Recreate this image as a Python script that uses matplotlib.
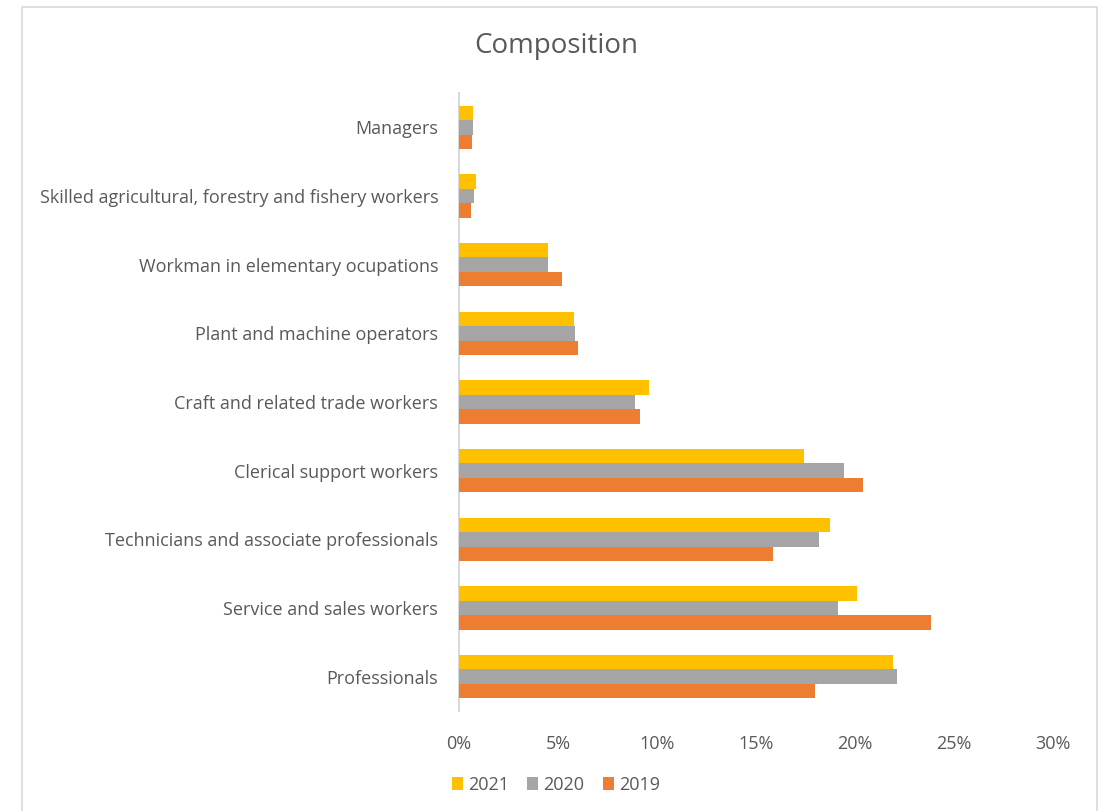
import matplotlib

matplotlib.use("Agg")
import matplotlib.pyplot as plt
import numpy as np
from matplotlib.patches import Rectangle
from matplotlib.ticker import PercentFormatter

# categories bottom -> top (as drawn on the y axis)
categories = [
    "Professionals",
    "Service and sales workers",
    "Technicians and associate professionals",
    "Clerical support workers",
    "Craft and related trade workers",
    "Plant and machine operators",
    "Workman in elementary ocupations",
    "Skilled agricultural, forestry and fishery workers",
    "Managers",
]
share_2021 = [21.9, 20.1, 18.75, 17.4, 9.6, 5.8, 4.5, 0.85, 0.72]
share_2020 = [22.1, 19.15, 18.2, 19.45, 8.9, 5.85, 4.5, 0.78, 0.72]
share_2019 = [18.0, 23.85, 15.85, 20.4, 9.15, 6.0, 5.2, 0.63, 0.67]

series = [("2021", share_2021, "#FFC000"),
          ("2020", share_2020, "#A5A5A5"),
          ("2019", share_2019, "#ED7D31")]

TEXT = "#595959"
plt.rcParams["font.family"] = ["Open Sans", "DejaVu Sans"]

fig = plt.figure(figsize=(11.02, 8.11), dpi=100)
# chart-area border
fig.patches.append(Rectangle((22 / 1102, -0.01), 1075 / 1102, 1 - 7 / 811 + 0.01,
                             transform=fig.transFigure, fill=False,
                             edgecolor="#d9d9d9", linewidth=1.2))
ax = fig.add_axes([459 / 1102, 1 - 711 / 811, 594 / 1102, 618 / 811])

y = np.arange(len(categories))
h = 0.21
offsets = [h, 0.0, -h]
for (name, vals, color), off in zip(series, offsets):
    ax.barh(y + off, vals, height=h, color=color, label=name, zorder=3)

ax.set_xlim(0, 30)
ax.set_ylim(-0.5, len(categories) - 0.5)
ax.xaxis.set_major_formatter(PercentFormatter(decimals=0))
ax.set_xticks(range(0, 31, 5))
ax.set_yticks(y)
ax.set_yticklabels(categories)
ax.tick_params(axis="both", length=0, colors=TEXT, labelsize=13)
ax.tick_params(axis="x", pad=17)
ax.tick_params(axis="y", pad=15)
for side in ["top", "right", "bottom"]:
    ax.spines[side].set_visible(False)
ax.spines["left"].set_color("#d9d9d9")
ax.spines["left"].set_linewidth(1.5)

fig.text(556 / 1102, 1 - 46 / 811, "Composition", ha="center", va="center",
         fontsize=20, color=TEXT)

ax.legend(loc="center", bbox_to_anchor=(556 / 1102, 1 - 785 / 811),
          bbox_transform=fig.transFigure, ncol=3, frameon=False,
          fontsize=13, labelcolor=TEXT, handlelength=0.6, handleheight=0.7,
          handletextpad=0.3, columnspacing=1.0)

fig.savefig("out.png", dpi=100)
